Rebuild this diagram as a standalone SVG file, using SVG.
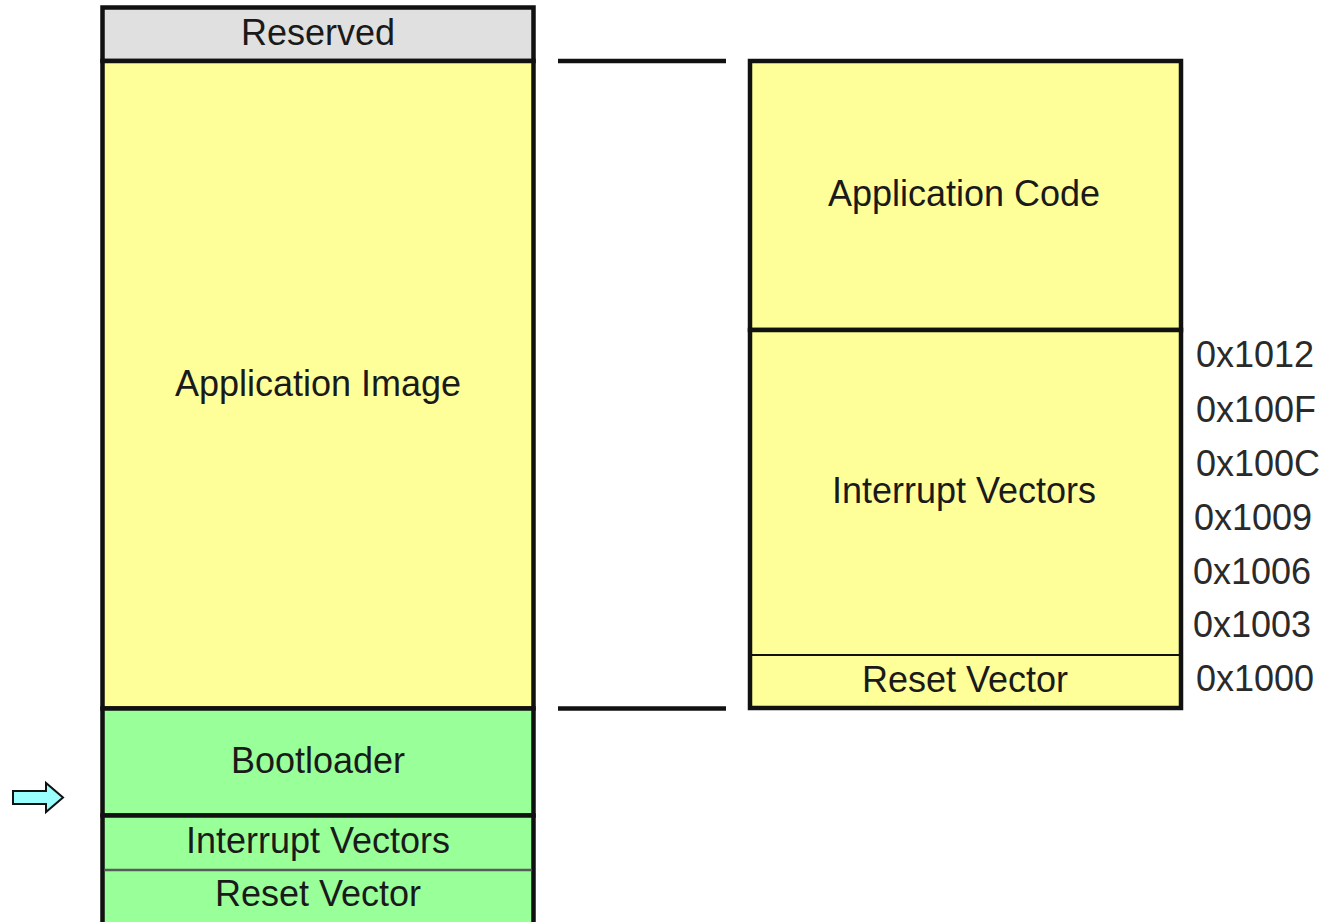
<svg xmlns="http://www.w3.org/2000/svg" width="1323" height="922" viewBox="0 0 1323 922">
<style>
.box{stroke:#111;stroke-width:4.5}
.thin{stroke:#111;stroke-width:2;fill:none}
.gray{fill:#e0e0e0}
.yel{fill:#ffff99}
.grn{fill:#99ff99}
.lbl{font-family:"Liberation Sans",Arial,sans-serif;font-size:36px;fill:#1a1a1a;text-anchor:middle}
.addr{font-family:"Liberation Sans",Arial,sans-serif;font-size:36px;fill:#2a2a2a;text-anchor:start}
.conn{stroke:#111;stroke-width:4.5;fill:none}
</style>
<rect width="1323" height="922" fill="#ffffff"/>
<g id="left-reserved">
<rect class="box gray" x="102.5" y="7.5" width="431" height="53.5"/>
<text class="lbl" x="318" y="45">Reserved</text>
</g>
<g id="left-application-image">
<rect class="box yel" x="102.5" y="61" width="431" height="647.5"/>
<text class="lbl" x="318" y="396">Application Image</text>
</g>
<g id="left-bootloader">
<rect class="box grn" x="102.5" y="708.5" width="431" height="107"/>
<text class="lbl" x="318" y="773">Bootloader</text>
</g>
<g id="left-interrupt-vectors">
<rect class="box grn" x="102.5" y="815.5" width="431" height="116.5"/>
<text class="lbl" x="318" y="853">Interrupt Vectors</text>
</g>
<g id="left-reset-vector">
<line x1="104.5" y1="870" x2="531.5" y2="870" stroke="#5a5a5a" stroke-width="2.5"/>
<text class="lbl" x="318" y="906">Reset Vector</text>
</g>
<g id="right-application-code">
<rect class="box yel" x="750" y="61" width="431" height="269"/>
<text class="lbl" x="964" y="206">Application Code</text>
</g>
<g id="right-interrupt-vectors">
<rect class="box yel" x="750" y="330" width="431" height="378"/>
<line class="thin" x1="751" y1="655" x2="1180" y2="655"/>
<text class="lbl" x="964" y="503">Interrupt Vectors</text>
</g>
<g id="right-reset-vector">
<text class="lbl" x="965" y="692">Reset Vector</text>
</g>
<g id="addresses">
<text class="addr" x="1196" y="367">0x1012</text>
<text class="addr" x="1196" y="422">0x100F</text>
<text class="addr" x="1196" y="476">0x100C</text>
<text class="addr" x="1194" y="530">0x1009</text>
<text class="addr" x="1193" y="584">0x1006</text>
<text class="addr" x="1193" y="637">0x1003</text>
<text class="addr" x="1196" y="691">0x1000</text>
</g>
<g id="arrow">
<polygon points="13,791 46,791 46,783 63,797.5 46,812 46,804 13,804" fill="#99ffff" stroke="#111" stroke-width="2"/>
</g>
<g id="connectors">
<line class="conn" x1="558" y1="61" x2="726" y2="61"/>
<line class="conn" x1="558" y1="708.5" x2="726" y2="708.5"/>
</g>
</svg>
